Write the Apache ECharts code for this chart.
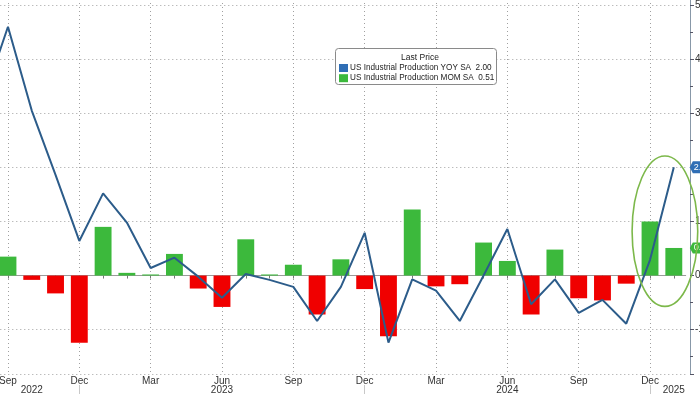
<!DOCTYPE html>
<html>
<head>
<meta charset="utf-8">
<script src="https://cdn.jsdelivr.net/npm/echarts@6/dist/echarts.min.js"></script>
<style>
html,body{margin:0;padding:0;background:#fff;overflow:hidden;width:700px;height:394px;position:relative}
#c{position:absolute;left:-28px;top:-49px;width:728px;height:443px}
</style>
</head>
<body>
<div id="c"></div>
<script>
const categories = ['Aug 2022','Sep 2022','Oct 2022','Nov 2022','Dec 2022','Jan 2023','Feb 2023','Mar 2023','Apr 2023','May 2023','Jun 2023','Jul 2023','Aug 2023','Sep 2023','Oct 2023','Nov 2023','Dec 2023','Jan 2024','Feb 2024','Mar 2024','Apr 2024','May 2024','Jun 2024','Jul 2024','Aug 2024','Sep 2024','Oct 2024','Nov 2024','Dec 2024','Jan 2025'];
const yoy = [3.3, 4.6, 3.05, 1.86, 0.64, 1.52, 0.98, 0.14, 0.33, -0.02, -0.41, 0.03, -0.08, -0.21, -0.84, -0.21, 0.79, -1.24, -0.07, -0.28, -0.84, 0.0, 0.86, -0.53, -0.07, -0.69, -0.45, -0.89, 0.29, 2.00];
const mom = [null, 0.35, -0.08, -0.33, -1.24, 0.90, 0.05, 0.02, 0.40, -0.24, -0.58, 0.67, 0.02, 0.20, -0.72, 0.30, -0.25, -1.12, 1.22, -0.20, -0.16, 0.61, 0.27, -0.72, 0.48, -0.42, -0.46, -0.15, 1.00, 0.51];
const quarterMonths = ['Sep','Dec','Mar','Jun'];
const yearLabelAt = ['Oct 2022','Jun 2023','Jun 2024','Jan 2025'];
const yearLabels = ['2022','2023','2024','2025'];
const yTickLabels = ['-1','0','1','2','3','4','5'];
const seriesNames = ['US Industrial Production YOY SA','US Industrial Production MOM SA'];
const lastValues = ['2.00','0.51'];
const legendTitle = 'Last Price';

// the chart canvas is shifted by this offset (px) so the first partial band falls outside the view
const OX = 28, OY = 49;
const FONT = 'Liberation Sans';
const BLUE = '#2c5c8a', TAGBLUE = '#2f6eb5', GREEN = '#3cb93c', RED = '#f00000';
const lastCat = categories[categories.length - 1];

const chart = echarts.init(document.getElementById('c'), null, {renderer: 'canvas'});
const option = {
  animation: false,
  textStyle: {fontFamily: FONT},
  title: {
    text: legendTitle, left: 415 + OX, top: 48 + OY, textAlign: 'center',
    textStyle: {fontSize: 8.5, fontWeight: 'normal', color: '#222', fontFamily: FONT}
  },
  legend: {
    orient: 'vertical', left: 334 + OX, top: 59 + OY, itemGap: 2.2,
    itemWidth: 9, itemHeight: 8, icon: 'rect',
    textStyle: {fontSize: 8.2, color: '#222', fontFamily: FONT, padding: [0,0,0,-3]},
    data: [{name: seriesNames[0], itemStyle: {color: TAGBLUE}}, {name: seriesNames[1], itemStyle: {color: GREEN}}],
    formatter: function (name) {
      const i = seriesNames.indexOf(name);
      return name + '  ' + lastValues[i];
    }
  },
  grid: {left: 0.3, right: 14.3, top: 0, bottom: 20, outerBoundsMode: 'none', containLabel: false},
  xAxis: [{
    type: 'category', data: categories, position: 'bottom',
    axisLine: {show: true, lineStyle: {color: '#9a9a9a', width: 1}},
    axisTick: {show: true, interval: 0, alignWithLabel: true, length: 3, lineStyle: {color: '#777'}},
    axisLabel: {
      interval: function (i, v) { return quarterMonths.indexOf(v.split(' ')[0]) >= 0; },
      formatter: function (v) { return v.split(' ')[0]; },
      margin: 2, fontSize: 10, color: '#333', fontFamily: FONT
    },
    splitLine: {
      show: true, alignWithLabel: true,
      interval: function (i, v) { return quarterMonths.indexOf(v.split(' ')[0]) >= 0; },
      lineStyle: {color: '#a0a0a0', type: [1, 3], width: 1}
    }
  }, {
    type: 'category', data: categories, position: 'bottom', offset: 11,
    axisLine: {show: false},
    axisTick: {show: true, alignWithLabel: true, length: 10,
      interval: function (i, v) { return v.split(' ')[0] === 'Dec'; },
      lineStyle: {color: '#c8c8c8'}},
    axisLabel: {
      interval: function (i, v) { return yearLabelAt.indexOf(v) >= 0; },
      formatter: function (v) { return yearLabels[yearLabelAt.indexOf(v)]; },
      margin: 0, fontSize: 10, color: '#333', fontFamily: FONT
    },
    splitLine: {show: false}
  }],
  yAxis: {
    type: 'value', position: 'right', offset: 4.3, min: -1.82, max: 6, splitNumber: 8,
    minInterval: 1, maxInterval: 1,
    axisLine: {show: true, lineStyle: {color: '#8898a8', width: 1}},
    axisTick: {show: true, length: 4, lineStyle: {color: '#556'}},
    minorTick: {show: true, splitNumber: 2, length: 3, lineStyle: {color: '#556'}},
    axisLabel: {
      showMinLabel: false, showMaxLabel: false, margin: 5, fontSize: 10, color: '#333', fontFamily: FONT,
      formatter: function (v) { const s = String(v); return yTickLabels.indexOf(s) >= 0 ? s : ''; }
    },
    splitLine: {show: true, lineStyle: {color: '#a0a0a0', type: [1, 3], width: 1}}
  },
  series: [{
    name: seriesNames[1], type: 'bar', xAxisIndex: 0, data: mom, barWidth: '71%',
    itemStyle: {color: function (p) { return p.value >= 0 ? GREEN : RED; }},
    z: 2,
    markPoint: {
      symbol: 'path://M0,5 L3,0 L20,0 L20,10 L3,10 Z', symbolSize: [20, 11], symbolKeepAspect: false,
      symbolOffset: [26, 0],
      itemStyle: {color: GREEN},
      label: {show: true, position: 'insideLeft', distance: 4, color: '#fff', fontSize: 9, fontFamily: FONT,
        formatter: lastValues[1]},
      data: [{coord: [lastCat, mom[mom.length - 1]]}]
    }
  }, {
    name: seriesNames[0], type: 'line', xAxisIndex: 0, data: yoy, showSymbol: false, symbol: 'none',
    lineStyle: {color: BLUE, width: 2}, itemStyle: {color: TAGBLUE}, z: 5,
    markPoint: {
      symbol: 'path://M0,5 L3,0 L20,0 L20,10 L3,10 Z', symbolSize: [20, 12], symbolKeepAspect: false,
      symbolOffset: [26, 0],
      itemStyle: {color: TAGBLUE},
      label: {show: true, position: 'insideLeft', distance: 4, color: '#fff', fontSize: 9, fontFamily: FONT,
        formatter: lastValues[0]},
      data: [{coord: [lastCat, yoy[yoy.length - 1]]}]
    }
  }]
};
chart.setOption(option);

// annotations: legend box and highlight ellipse around the last two months
const pA = chart.convertToPixel({xAxisIndex: 0, yAxisIndex: 0}, [categories[categories.length - 2], 0.82]);
const pB = chart.convertToPixel({xAxisIndex: 0, yAxisIndex: 0}, [lastCat, 0.82]);
const pU = chart.convertToPixel({xAxisIndex: 0, yAxisIndex: 0}, [lastCat, 1.82]);
const band = pB[0] - pA[0];
const unit = pB[1] - pU[1];
chart.setOption({
  graphic: [{
    type: 'rect', left: 335 + OX, top: 48 + OY, z: 0,
    shape: {width: 161, height: 36, r: 3},
    style: {fill: '#fff', stroke: '#8a8a8a', lineWidth: 1}
  }, {
    type: 'ellipse', z: 10, silent: true,
    shape: {cx: (pA[0] + pB[0]) / 2 + 3, cy: pA[1], rx: band * 1.38, ry: unit * 1.39},
    style: {fill: 'none', stroke: '#7cb84a', lineWidth: 1.6}
  }]
});
</script>
</body>
</html>
